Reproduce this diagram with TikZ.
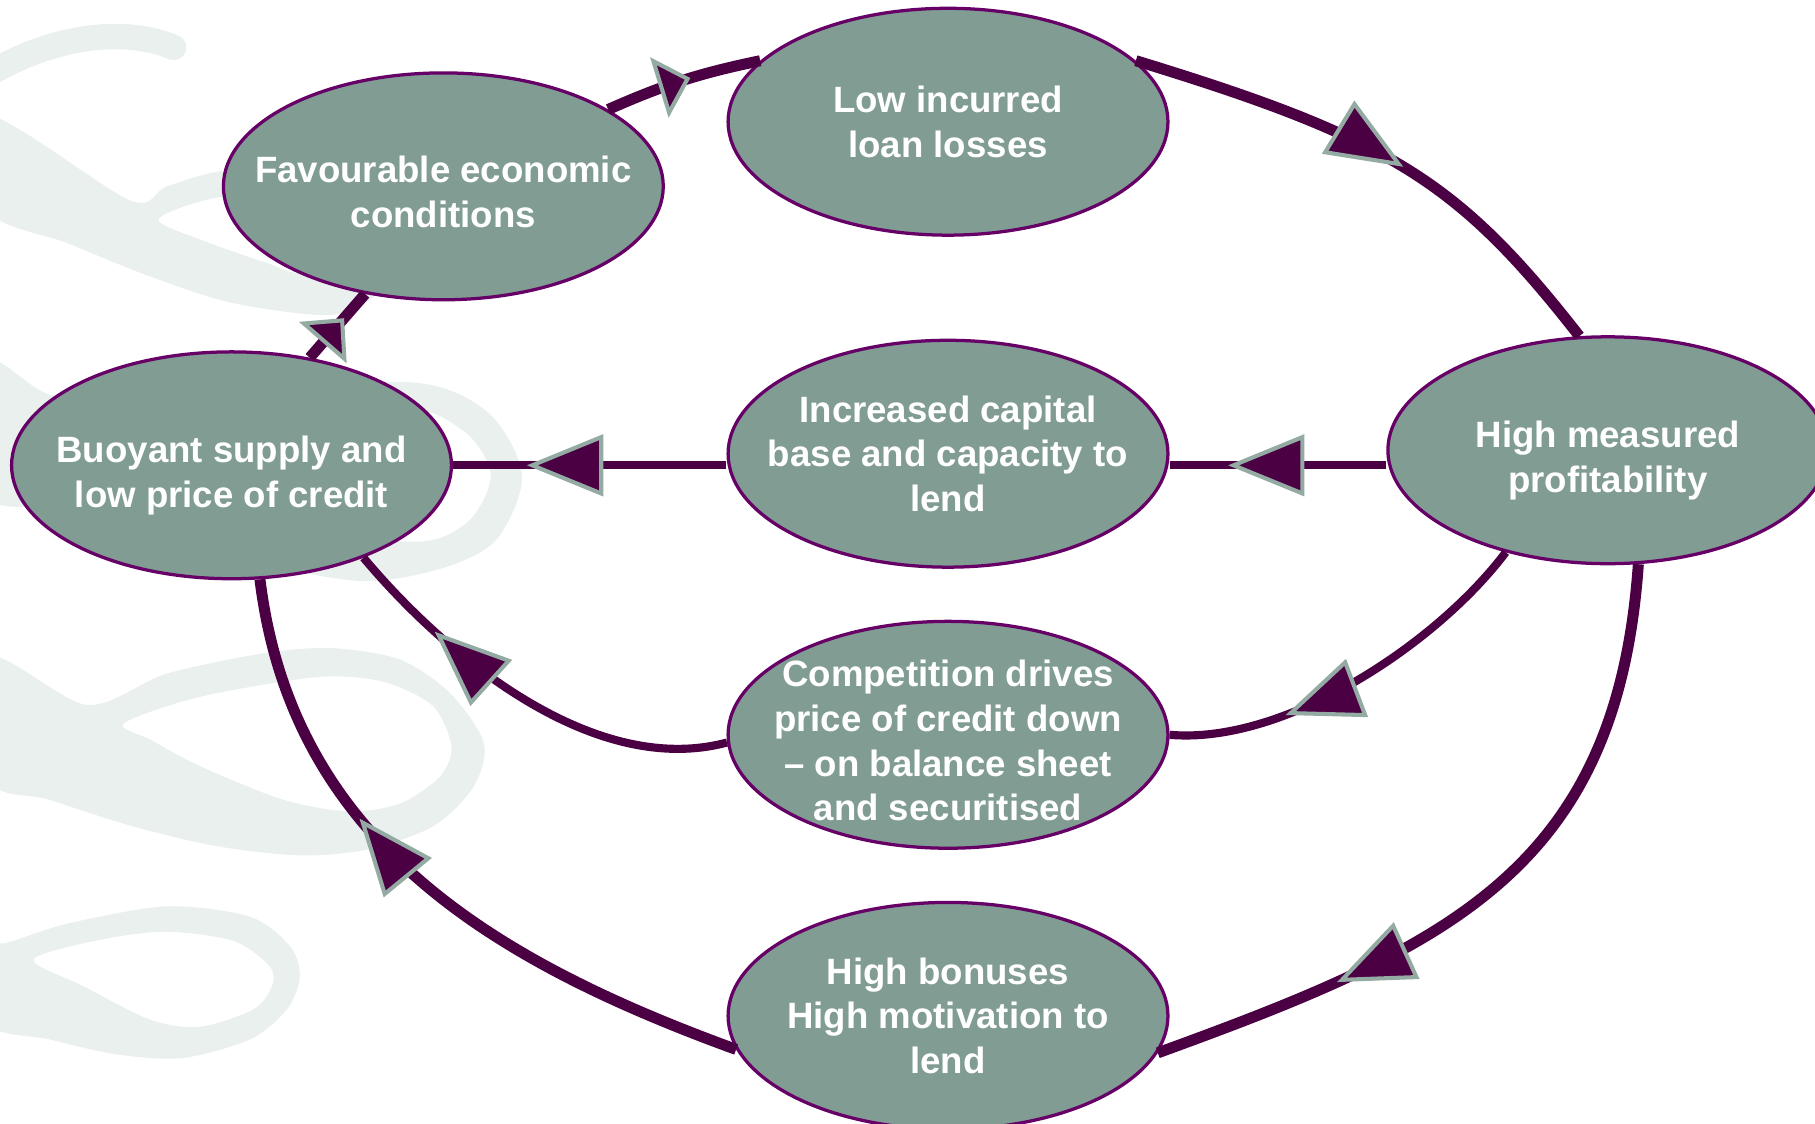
\documentclass[tikz,border=0pt]{standalone}
\usepackage{fontspec}
\setmainfont{Liberation Sans}
\usetikzlibrary{shapes.geometric, arrows.meta, positioning, decorations.markings}
\definecolor{cycleGreen}{HTML}{809C93}
\definecolor{rimPurple}{HTML}{660066}
\definecolor{flowPurple}{HTML}{4B0043}
\definecolor{tipGray}{HTML}{93ABA3}
\definecolor{swirlGray}{HTML}{EAF0EE}

\tikzset{
    bigtip/.tip={Triangle[length=6.6mm, width=5.3mm, fill=flowPurple, color=tipGray, line width=1pt]},
    smalltip/.tip={Triangle[length=2.8mm, width=5.4mm, fill=flowPurple, color=tipGray, line width=1pt]},
}

\begin{document}
\begin{tikzpicture}[
    state/.style={ellipse, draw=rimPurple, line width=0.8pt, fill=cycleGreen, minimum width=3.8cm, minimum height=1.96cm, inner sep=-8mm, align=center, text=white, font=\bfseries\fontsize{9}{11}\selectfont},
    droptext/.style={execute at begin node={\rule{0pt}{#1}}},
    flow/.style={draw=flowPurple, line width=2.7pt},
    thinflow/.style={draw=flowPurple, line width=2pt},
    midtip/.style 2 args={postaction={decorate}, decoration={markings, mark=at position #1 with {\arrow{#2}}}},
    swirl/.style={draw=swirlGray, line width=2.2mm, line cap=round},
    swirlfill/.style={fill=swirlGray, even odd rule},
]
    \useasboundingbox (0,0) rectangle (15.68,9.71);

    % watermark swirls behind the cycle
    \draw[swirl] (-0.1,9.07) .. controls (0.5,9.42) and (1.1,9.47) .. (1.5,9.3);
    \path[swirlfill] plot[smooth cycle, tension=0.5] coordinates {(-0.1,8.71) (1.12,7.98) (1.44,8.10) (1.96,8.24) (3.0,8.31) (3.6,7.71) (3.3,7.21) (2.88,6.99) (2.02,7.09) (1.30,7.32) (0.58,7.61) (-0.1,7.89)}
        plot[smooth cycle, tension=0.5] coordinates {(1.37,7.82) (1.93,8.01) (2.6,7.93) (2.75,7.51) (2.59,7.35) (2.30,7.44) (1.73,7.64)};
    \path[swirlfill] plot[smooth cycle, tension=0.5] coordinates {(-0.1,6.57) (0.46,6.29) (1.5,6.2) (3.47,6.41) (4.2,6.16) (4.51,5.61) (4.3,5.06) (3.85,4.81) (3.11,4.69) (2.0,4.9) (0.5,5.3) (-0.1,5.44)}
        plot[smooth cycle, tension=0.5] coordinates {(1.5,5.9) (3.39,6.19) (4.0,5.99) (4.24,5.61) (4.05,5.21) (3.6,5.03) (2.5,5.2)};
    \path[swirlfill] plot[smooth cycle, tension=0.5] coordinates {(-0.1,4.03) (0.75,3.62) (1.44,3.89) (2.30,4.07) (2.88,4.11) (3.46,4.01) (3.89,3.72) (4.18,3.29) (4.09,2.91) (3.74,2.57) (3.17,2.37) (2.59,2.32) (1.87,2.40) (1.15,2.57) (0.43,2.80) (-0.1,2.98)}
        plot[smooth cycle, tension=0.5] coordinates {(1.07,3.46) (1.73,3.69) (2.74,3.86) (3.31,3.82) (3.74,3.61) (3.90,3.26) (3.80,3.00) (3.46,2.77) (3.02,2.70) (2.45,2.80) (1.73,3.09) (1.30,3.32)};
    \path[swirlfill] plot[smooth cycle, tension=0.5] coordinates {(-0.1,1.59) (0.04,1.56) (0.58,1.73) (1.44,1.88) (2.16,1.79) (2.51,1.53) (2.59,1.27) (2.48,0.99) (2.16,0.73) (1.58,0.57) (1.01,0.60) (0.43,0.73) (-0.1,0.87)}
        plot[smooth cycle, tension=0.5] coordinates {(0.29,1.42) (0.86,1.59) (1.44,1.66) (2.02,1.58) (2.33,1.36) (2.35,1.19) (2.19,0.99) (1.73,0.84) (1.30,0.90) (0.72,1.19)};

    \node[state, droptext=22.4pt] (buoy) at (2.00,5.69) {Buoyant supply and\\low price of credit};
    \node[state] (cap) at (8.19,5.79) {Increased capital\\base and capacity to\\lend};
    \node[state, droptext=22.7pt] (prof) at (13.89,5.82) {High measured\\profitability};
    \node[state, above=0.88cm of cap] (low) {Low incurred\\loan losses};
    \node[state, below=0.44cm of cap, droptext=42.4pt] (comp) {Competition drives\\price of credit down\\– on balance sheet\\and securitised};
    \node[state, below=0.44cm of comp] (bon) {High bonuses\\High motivation to\\lend};
    \node[state, droptext=20.4pt] (fav) at (3.83,8.10) {Favourable economic\\conditions};

    \draw[flow, midtip={0.62}{smalltip}] (buoy.54) -- (fav.234);
    \draw[flow, midtip={0.55}{smalltip}] (fav.25) to[bend left=6] (low.162);
    \draw[flow, midtip={0.54}{bigtip}] (low.18) to[out=-17, in=128, out distance=2.3cm, in distance=1.7cm] (prof.104);
    \draw[thinflow, midtip={0.73}{bigtip}] (prof.west |- buoy.east) -- (cap.east |- buoy.east);
    \draw[thinflow, midtip={0.73}{bigtip}] (cap.west |- buoy.east) -- (buoy.east);
    \draw[thinflow, midtip={0.70}{bigtip}] (prof.225) to[out=233, in=-5, looseness=0.77] (comp.east);
    \draw[thinflow, midtip={0.76}{bigtip}] (comp.182) to[out=195, in=-50, looseness=0.85] (buoy.325);
    \draw[flow, midtip={0.74}{bigtip}] (prof.285) to[out=266, in=20, looseness=1.15] (bon.350);
    \draw[flow, midtip={0.63}{bigtip}] (bon.189) to[out=160, in=-83] (buoy.284);
\end{tikzpicture}
\end{document}
